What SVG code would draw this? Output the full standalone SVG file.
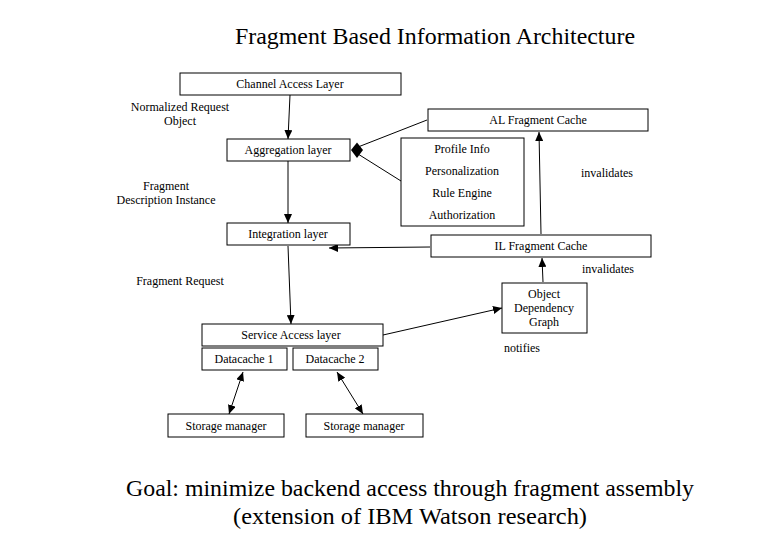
<svg xmlns="http://www.w3.org/2000/svg" width="780" height="540" viewBox="0 0 780 540">
<defs>
<style>
text{font-family:"Liberation Serif","Times New Roman",serif;fill:#000}
.s{font-size:12px}
.c{text-anchor:middle}
.big{font-size:24px;font-family:"Liberation Serif","Times New Roman",serif}
rect{fill:#fff;stroke:#000;stroke-width:1}
.ln{stroke:#000;stroke-width:1;fill:none}
</style>
<marker id="ah" viewBox="0 0 10 10" refX="10" refY="5" markerWidth="9" markerHeight="8" markerUnits="userSpaceOnUse" orient="auto-start-reverse" preserveAspectRatio="none">
<path d="M0,0 L10,5 L0,10 z" fill="#000"/>
</marker>
</defs>
<rect x="0" y="0" width="780" height="540" style="stroke:none;fill:#fff"/>
<text class="big c" x="435" y="44" textLength="400" lengthAdjust="spacingAndGlyphs" font-family="Liberation Serif, serif">Fragment Based Information Architecture</text>

<g id="connectors">
<line class="ln" x1="290" y1="95" x2="288" y2="139" marker-end="url(#ah)"/>
<line class="ln" x1="288" y1="161" x2="288" y2="223" marker-end="url(#ah)"/>
<line class="ln" x1="288" y1="246" x2="291" y2="324" marker-end="url(#ah)"/>
<line class="ln" x1="427" y1="120" x2="358" y2="147"/>
<line class="ln" x1="401" y1="181" x2="358" y2="154"/>
<path d="M351,150 L357,142.5 L363,150 L357,158 z" fill="#000"/>
<line class="ln" x1="430" y1="247" x2="329" y2="248" marker-end="url(#ah)"/>
<line class="ln" x1="541" y1="234" x2="539" y2="132" marker-end="url(#ah)"/>
<line class="ln" x1="543" y1="282" x2="542" y2="258" marker-end="url(#ah)"/>
<line class="ln" x1="383" y1="335" x2="502" y2="308" marker-end="url(#ah)"/>
<line class="ln" x1="243" y1="372" x2="229" y2="414" marker-start="url(#ah)" marker-end="url(#ah)"/>
<line class="ln" x1="337" y1="372" x2="363" y2="414" marker-start="url(#ah)" marker-end="url(#ah)"/>
</g>

<g id="channel"><rect x="180" y="73" width="221" height="22"/><text class="s c" x="290" y="88">Channel Access Layer</text></g>
<g id="lbl-nro"><text class="s c" x="180" y="111">Normalized Request</text><text class="s c" x="180" y="125">Object</text></g>
<g id="aggregation"><rect x="227" y="139" width="123" height="22"/><text class="s c" x="288" y="154">Aggregation layer</text></g>
<g id="alcache"><rect x="428" y="109" width="220" height="22"/><text class="s c" x="538" y="124">AL Fragment Cache</text></g>
<g id="profile"><rect x="401" y="138" width="123" height="88"/>
<text class="s c" x="462" y="153">Profile Info</text>
<text class="s c" x="462" y="175">Personalization</text>
<text class="s c" x="462" y="197">Rule Engine</text>
<text class="s c" x="462" y="219">Authorization</text></g>
<g id="lbl-inv1"><text class="s c" x="607" y="177">invalidates</text></g>
<g id="lbl-fdi"><text class="s c" x="166" y="190">Fragment</text><text class="s c" x="166" y="204">Description Instance</text></g>
<g id="integration"><rect x="227" y="223" width="123" height="22"/><text class="s c" x="288" y="238">Integration layer</text></g>
<g id="ilcache"><rect x="431" y="235" width="220" height="22"/><text class="s c" x="541" y="250">IL Fragment Cache</text></g>
<g id="lbl-inv2"><text class="s c" x="608" y="273">invalidates</text></g>
<g id="lbl-fr"><text class="s c" x="180" y="285">Fragment Request</text></g>
<g id="odg"><rect x="502" y="283" width="85" height="50"/>
<text class="s c" x="544" y="298">Object</text>
<text class="s c" x="544" y="312">Dependency</text>
<text class="s c" x="544" y="326">Graph</text></g>
<g id="service"><rect x="202" y="324" width="181" height="22"/><text class="s c" x="291" y="339">Service Access layer</text></g>
<g id="dc1"><rect x="202" y="348" width="85" height="22"/><text class="s c" x="244" y="363">Datacache 1</text></g>
<g id="dc2"><rect x="293" y="348" width="85" height="22"/><text class="s c" x="335" y="363">Datacache 2</text></g>
<g id="lbl-notifies"><text class="s c" x="522" y="352">notifies</text></g>
<g id="sm1"><rect x="168" y="414" width="116" height="23"/><text class="s c" x="226" y="430">Storage manager</text></g>
<g id="sm2"><rect x="306" y="414" width="117" height="23"/><text class="s c" x="364" y="430">Storage manager</text></g>
<text class="big c" x="410" y="496" textLength="568" lengthAdjust="spacingAndGlyphs" font-family="Liberation Serif, serif">Goal: minimize backend access through fragment assembly</text>
<text class="big c" x="410" y="524" textLength="354" lengthAdjust="spacingAndGlyphs" font-family="Liberation Serif, serif">(extension of IBM Watson research)</text>
</svg>
